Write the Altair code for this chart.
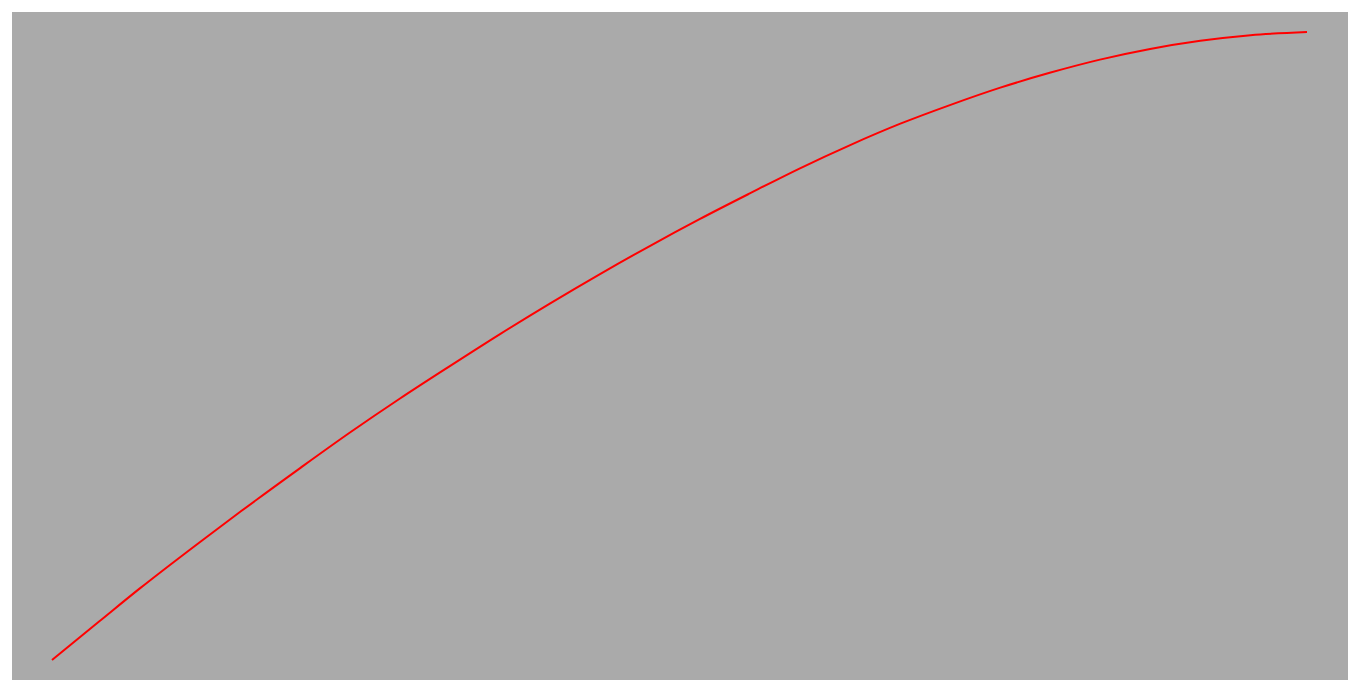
import altair as alt
import pandas as pd

# values (fraction of horizontal / vertical span)
xs = [0.0, 0.038, 0.070, 0.118, 0.150, 0.198, 0.238, 0.277, 0.317, 0.357,
      0.397, 0.437, 0.477, 0.516, 0.556, 0.596, 0.636, 0.676, 0.716, 0.755,
      0.795, 0.835, 0.875, 0.915, 0.955, 1.0]
ys = [0.0, 0.062, 0.114, 0.188, 0.236, 0.306, 0.363, 0.416, 0.468, 0.519,
      0.568, 0.615, 0.660, 0.702, 0.743, 0.783, 0.820, 0.854, 0.884, 0.911,
      0.935, 0.956, 0.973, 0.986, 0.995, 1.0]

df = pd.DataFrame({"x": xs, "y": ys})

chart = alt.Chart(df).mark_line(color="#ff0000", strokeWidth=2, interpolate="monotone", clip=False).encode(
    x=alt.X("x:Q", axis=None, scale=alt.Scale(domain=[-0.03187, 1.03267], nice=False, zero=False)),
    y=alt.Y("y:Q", axis=None, scale=alt.Scale(domain=[-0.03185, 1.03185], nice=False, zero=False)),
).properties(
    width=1336, height=668, padding={"left": 4, "top": 4, "right": 0, "bottom": 0},
    background="white",
).configure_view(fill="#aaaaaa", stroke=None)

chart.save("out.html", embed_options={"renderer": "svg", "actions": False})
